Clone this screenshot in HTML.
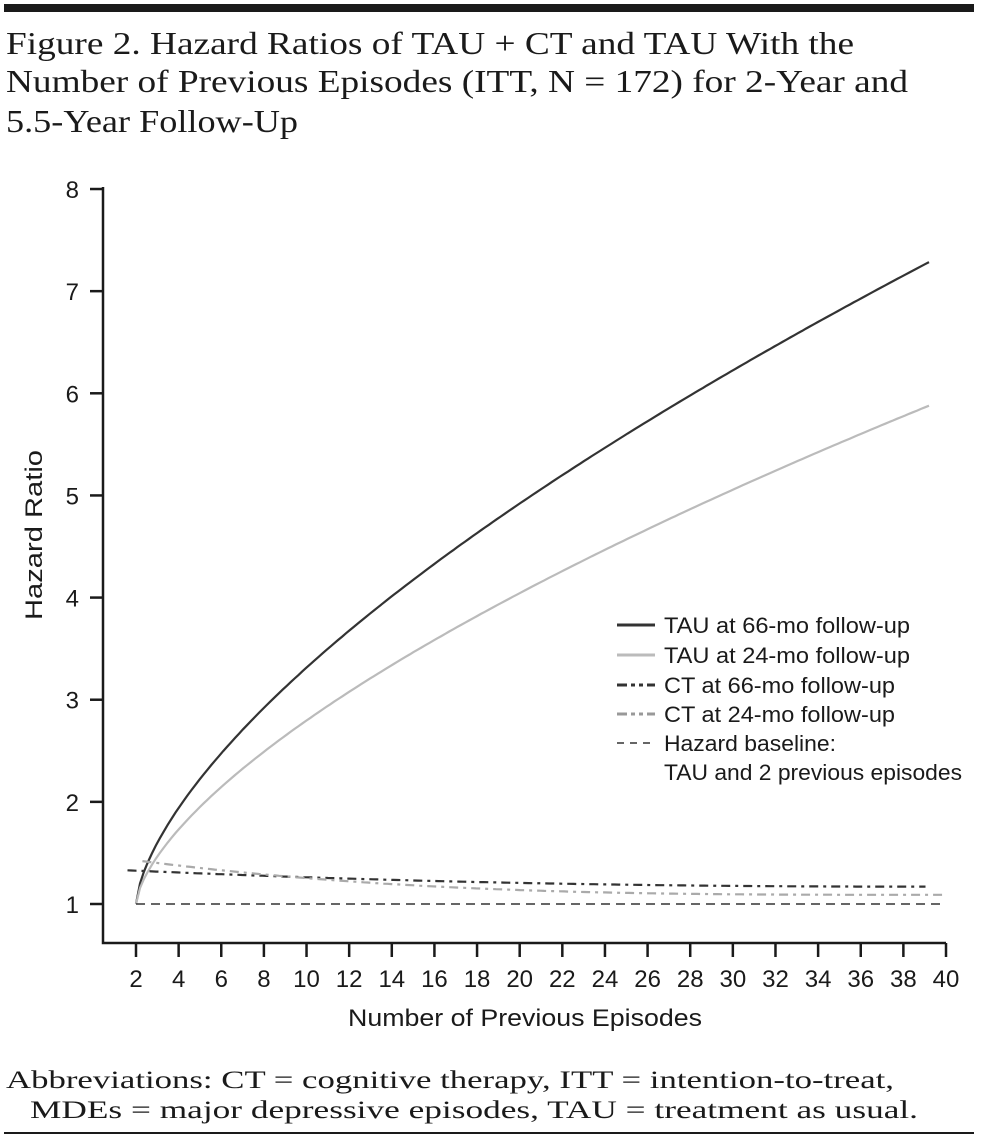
<!DOCTYPE html>
<html><head><meta charset="utf-8"><style>
body{margin:0;background:#fff;width:982px;height:1147px;overflow:hidden}
svg{display:block}
.t{font-family:"Liberation Serif",serif;font-size:32px;fill:#1a1a1a}
.f{font-family:"Liberation Serif",serif;font-size:25px;fill:#1a1a1a}
.s{font-family:"Liberation Sans",sans-serif;fill:#1a1a1a}
</style></head><body>
<svg id="c" width="982" height="1147" viewBox="0 0 982 1147" xmlns="http://www.w3.org/2000/svg">
<rect x="4" y="4" width="970" height="8" fill="#1a1a1a"/>
<text class="t" x="6" y="54" textLength="848" lengthAdjust="spacingAndGlyphs">Figure 2. Hazard Ratios of TAU + CT and TAU With the</text>
<text class="t" x="6" y="92" textLength="902" lengthAdjust="spacingAndGlyphs">Number of Previous Episodes (ITT, N = 172) for 2-Year and</text>
<text class="t" x="6" y="132" textLength="292" lengthAdjust="spacingAndGlyphs">5.5-Year Follow-Up</text>
<g stroke="#1a1a1a" stroke-width="2.5" fill="none">
<path d="M103 187 V943 H946"/>
</g>
<g id="ticks" stroke="#1a1a1a" stroke-width="2.5"></g>
<g id="lbl" class="s" font-size="24"></g>
<text class="s" font-size="24" x="348" y="1026" textLength="354" lengthAdjust="spacingAndGlyphs">Number of Previous Episodes</text>
<text class="s" font-size="24" transform="translate(42,620) rotate(-90)" textLength="170" lengthAdjust="spacingAndGlyphs">Hazard Ratio</text>
<g id="curves" fill="none"></g>
<g class="s" font-size="22">
<line x1="617" y1="625" x2="655" y2="625" stroke="#333" stroke-width="3"/>
<text x="664" y="633" textLength="246" lengthAdjust="spacingAndGlyphs">TAU at 66-mo follow-up</text>
<line x1="617" y1="655" x2="655" y2="655" stroke="#bbb" stroke-width="3"/>
<text x="664" y="663" textLength="246" lengthAdjust="spacingAndGlyphs">TAU at 24-mo follow-up</text>
<line x1="617" y1="685" x2="655" y2="685" stroke="#333" stroke-width="3" stroke-dasharray="10 4 4 4 4 4 10"/>
<text x="664" y="693" textLength="231" lengthAdjust="spacingAndGlyphs">CT at 66-mo follow-up</text>
<line x1="617" y1="714" x2="655" y2="714" stroke="#999" stroke-width="3" stroke-dasharray="10 4 4 4 4 4 10"/>
<text x="664" y="722" textLength="231" lengthAdjust="spacingAndGlyphs">CT at 24-mo follow-up</text>
<line x1="617" y1="743" x2="655" y2="743" stroke="#333" stroke-width="1.5" stroke-dasharray="7 6"/>
<text x="664" y="751" textLength="172" lengthAdjust="spacingAndGlyphs">Hazard baseline:</text>
<text x="664" y="780" textLength="298" lengthAdjust="spacingAndGlyphs">TAU and 2 previous episodes</text>
</g>
<text class="f" x="6" y="1088" textLength="888" lengthAdjust="spacingAndGlyphs">Abbreviations: CT = cognitive therapy, ITT = intention-to-treat,</text>
<text class="f" x="30" y="1118" textLength="888" lengthAdjust="spacingAndGlyphs">MDEs = major depressive episodes, TAU = treatment as usual.</text>
<rect x="4" y="1132" width="970" height="2" fill="#1a1a1a"/>
</svg>
<script>
const NS="http://www.w3.org/2000/svg";
const X=n=>136+(n-2)*21.316, Y=v=>904-(v-1)*102.14;
const tk=document.getElementById('ticks'),lb=document.getElementById('lbl');
function el(p,t,a,txt){const e=document.createElementNS(NS,t);for(const k in a)e.setAttribute(k,a[k]);if(txt!=null)e.textContent=txt;p.appendChild(e);return e;}
for(let n=2;n<=40;n+=2){el(tk,'line',{x1:X(n),y1:943,x2:X(n),y2:957});el(lb,'text',{x:X(n),y:987,'text-anchor':'middle'},n);}
for(let v=1;v<=8;v++){el(tk,'line',{x1:90,y1:Y(v),x2:103,y2:Y(v)});el(lb,'text',{x:79,y:Y(v)+9,'text-anchor':'end'},v);}
const cg=document.getElementById('curves');
function path(f,a,b,attrs){let d='';for(let i=0;i<=200;i++){const n=a+(b-a)*i/200;d+=(i?'L':'M')+X(n).toFixed(1)+' '+Y(f(n)).toFixed(1);}attrs.d=d;el(cg,'path',attrs);}
path(n=>1+0.599*Math.pow(n-2,0.65),2,39.2,{stroke:'#333','stroke-width':2.2});
path(n=>1+0.465*Math.pow(n-2,0.65),2,39.2,{stroke:'#bbb','stroke-width':2.2});
path(n=>1.17+0.16*Math.pow((39.2-n)/37.6,2.2),1.6,40,{stroke:'#333','stroke-width':2.2,'stroke-dasharray':'9 5 3 5'});
path(n=>1.09+0.33*Math.pow((39.2-n)/36.9,3),2.3,40,{stroke:'#aaa','stroke-width':2.2,'stroke-dasharray':'9 5 3 5'});
el(cg,'line',{x1:136,y1:904,x2:946,y2:904,stroke:'#333','stroke-width':1.6,'stroke-dasharray':'9 6'});
</script>
</body></html>
